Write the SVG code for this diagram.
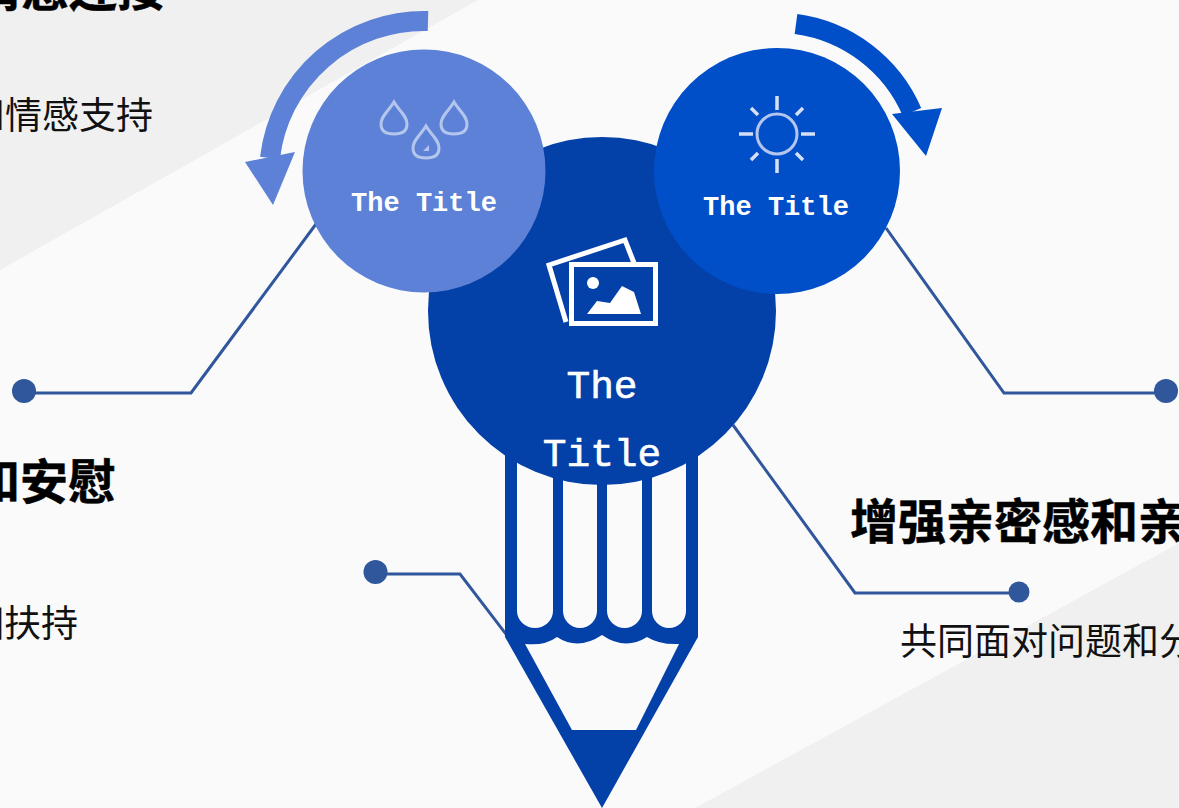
<svg xmlns="http://www.w3.org/2000/svg" width="1179" height="808" viewBox="0 0 1179 808">
<style>
.h{font-family:"Liberation Sans","Noto Sans CJK SC",sans-serif;font-weight:700;font-size:48px;fill:#000;stroke:#000;stroke-width:.5}
.b{font-family:"Liberation Sans","Noto Sans CJK SC",sans-serif;font-size:37px;fill:#111}
.t{font-family:"Liberation Mono","DejaVu Sans Mono",monospace;fill:#fff;text-anchor:middle}
.s{font-size:27px;font-weight:700}
.m{font-size:39.500px;stroke:#fff;stroke-width:.6}
.c{fill:none;stroke:#30579c;stroke-width:3}
.d{fill:#30579c}
.ico{fill:none;stroke:#b4c6ee;stroke-width:3}
.ph{fill:none;stroke:#fff;stroke-width:5}
</style>
<rect width="1179" height="808" fill="#fafafb"/>
<polygon points="0,0 478,0 0,270" fill="#f0f0f0"/>
<polygon points="695,808 1179,543 1179,808" fill="#f0f0f0"/>
<g id="connectors">
<path class="c" d="M24,393H191L316,224"/>
<path class="c" d="M1166,393H1004L886,228"/>
<path class="c" d="M1019,593H855L733,425"/>
<path class="c" d="M375,574H460L512,642"/>
<circle class="d" cx="24" cy="391" r="12"/>
<circle class="d" cx="1166" cy="391" r="12"/>
<circle class="d" cx="1019" cy="592" r="10.500"/>
<circle class="d" cx="375.500" cy="572" r="12"/>
</g>
<g id="pencil">
<polygon points="505,440 698,440 698,637 602,808 505,637" fill="#0340a8"/>
<path d="M517,440H553V611a18,17 0 0 1-36,0Z M563,440H597V611a17,17 0 0 1-34,0Z M607,440H642V611a17.500,17 0 0 1-35,0Z M652,440H686V611a17,17 0 0 1-34,0Z" fill="#fafafb"/>
<path d="M525,644Q545,646 557,637Q578,651 602,635Q625,651 647,637Q660,645 679,644L636,730H572Z" fill="#fafafb"/>
</g>
<g id="node-center">
<circle cx="602" cy="311" r="174" fill="#0340a8"/>
<rect x="571.500" y="264.500" width="84" height="59" class="ph"/>
<path class="ph" d="M566,322L549,265L625,240L634,263"/>
<circle cx="593" cy="283" r="6" fill="#fff"/>
<polygon points="587,314 597,301 610,303 622,286 634,292 641,314" fill="#fff"/>
<text class="t m" x="602" y="398">The</text>
<text class="t m" x="602" y="466">Title</text>
</g>
<g id="node-left">
<circle cx="424" cy="171" r="121.500" fill="#5c81d7"/>
<path class="ico" d="M394,102C388,112 381,116 381,124C381,130 385,134 394,134C403,134 407,130 407,124C407,116 400,112 394,102Z"/>
<path class="ico" d="M454,102C448,112 441,116 441,124C441,130 445,134 454,134C463,134 467,130 467,124C467,116 460,112 454,102Z"/>
<path class="ico" d="M426,126C420,136 413,140 413,148C413,154 417,158 426,158C435,158 439,154 439,148C439,140 432,136 426,126Z"/>
<path d="M429,145L429,151L423,151Z" fill="#b4c6ee"/>
<text class="t s" x="424" y="211">The Title</text>
</g>
<g id="node-right">
<circle cx="777" cy="171" r="123" fill="#004ec8"/>
<circle cx="777" cy="134" r="20" class="ico"/>
<path d="M777,96V110M777,159V173M739,134H753M801,134H815M751,108L758,115M803,108L796,115M751,160L758,153M803,160L796,153" fill="none" stroke="#d5e0f6" stroke-width="3.500"/>
<text class="t s" x="776" y="215">The Title</text>
</g>
<g id="arrow-left">
<path d="M428,21A155,155 0 0 0 270,158" fill="none" stroke="#5c81d7" stroke-width="20"/>
<polygon points="245,162 295,152 273,205" fill="#5c81d7"/>
</g>
<g id="arrow-right">
<path d="M796,24A148,148 0 0 1 912,112" fill="none" stroke="#004ec8" stroke-width="20"/>
<polygon points="892,114 942,108 926,156" fill="#004ec8"/>
</g>
<g id="text-top-left">
<text class="h" x="-27" y="6">情感连接</text>
<text class="b" x="-32" y="129">和情感支持</text>
</g>
<g id="text-mid-left">
<text class="h" x="-28" y="499">和安慰</text>
<text class="b" x="-33" y="637">相扶持</text>
</g>
<g id="text-right">
<text class="h" x="850" y="539">增强亲密感和亲</text>
<text class="b" x="900" y="655">共同面对问题和分</text>
</g>
</svg>
